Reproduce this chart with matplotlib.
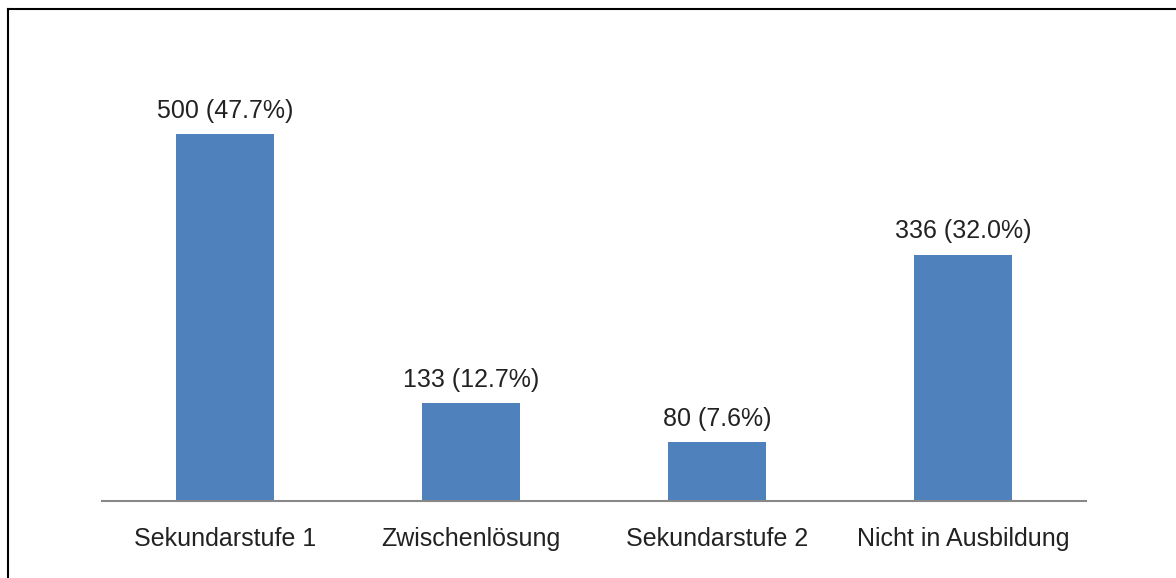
import matplotlib.pyplot as plt
from matplotlib.lines import Line2D

categories = ['Sekundarstufe 1', 'Zwischenlösung', 'Sekundarstufe 2', 'Nicht in Ausbildung']
counts = [500, 133, 80, 336]
percents = [47.7, 12.7, 7.6, 32.0]

plt.rcParams['font.family'] = ['Liberation Sans', 'DejaVu Sans']

W, H = 1176, 578
fig = plt.figure(figsize=(W / 100, H / 100), dpi=100)
ax = fig.add_axes([102 / W, (H - 501) / H, (1086 - 102) / W, (501 - 61) / H])

x = range(len(categories))
ax.bar(x, counts, width=0.4, color='#4F81BD')
for i, (c, p) in enumerate(zip(counts, percents)):
    ax.annotate(f'{c} ({p:.1f}%)', (i, c), xytext=(0, 17), textcoords='offset points',
                ha='center', va='center', fontsize=18, color='#222222')

ax.set_xlim(-0.5, 3.5)
ax.set_ylim(0, 600)
ax.set_xticks(list(x))
ax.set_xticklabels(categories, fontsize=18, color='#222222')
ax.tick_params(axis='x', length=0, pad=18.5)
ax.set_yticks([])
for s in ['top', 'right', 'left']:
    ax.spines[s].set_visible(False)
ax.spines['bottom'].set_color('#888888')
ax.spines['bottom'].set_linewidth(1.5)

# frame lines (left and top only visible)
fig.add_artist(Line2D([8 / W, 8 / W], [0, 1 - 9 / H], color='black', lw=1.5))
fig.add_artist(Line2D([8 / W, 1], [1 - 9 / H, 1 - 9 / H], color='black', lw=1.5))

fig.savefig('out.png', dpi=100)
